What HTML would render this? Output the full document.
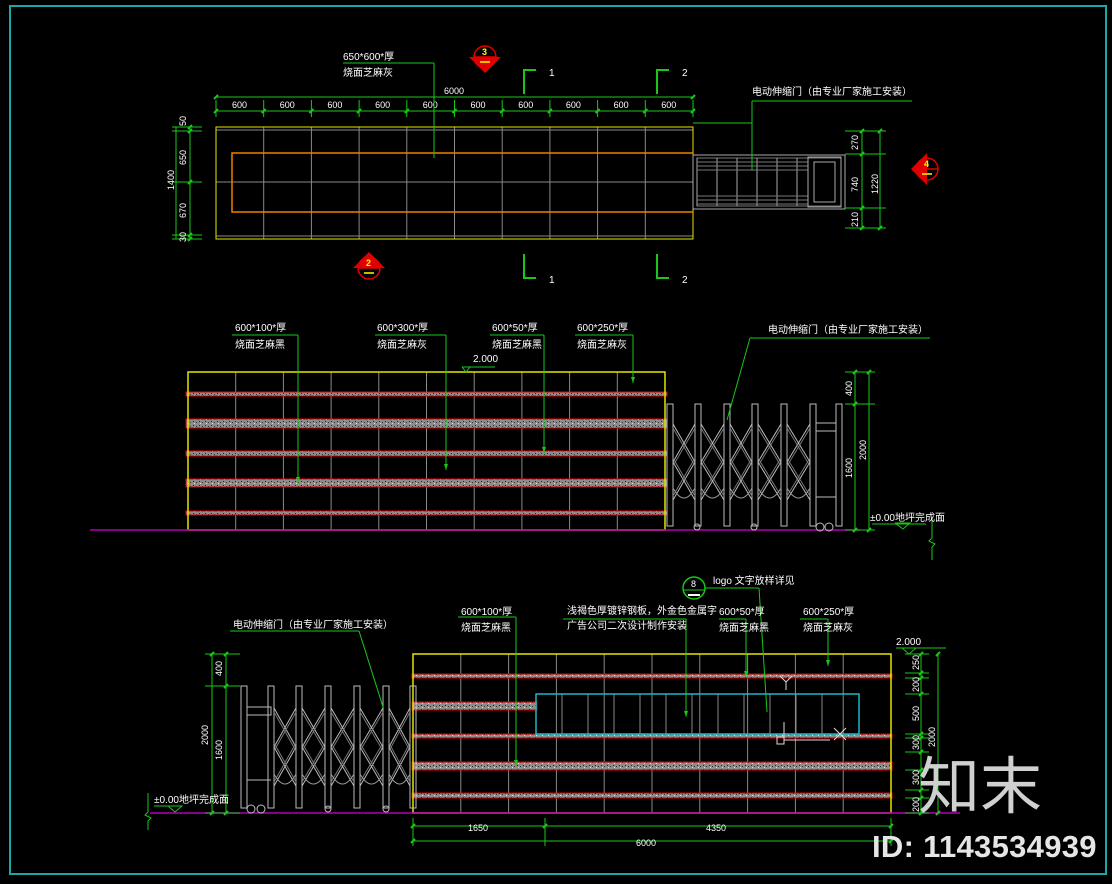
<!DOCTYPE html>
<html><head><meta charset="utf-8"><style>
html,body{margin:0;padding:0;background:#000;}
svg{display:block;}
text{font-family:"Liberation Sans","Noto Sans CJK SC",sans-serif;fill:#fff;}
.s{font-size:10px;}
.d{font-size:9px;}
</style></head><body>
<svg id="c" width="1112" height="884" viewBox="0 0 1112 884" xmlns="http://www.w3.org/2000/svg">
<defs>
<pattern id="st" width="6" height="4" patternUnits="userSpaceOnUse">
<rect width="6" height="4" fill="#8c8c8c"/>
<rect x="1" y="1" width="1" height="1" fill="#222"/><rect x="4" y="2" width="1" height="1" fill="#333"/><rect x="2" y="3" width="1" height="1" fill="#ddd"/>
</pattern>
</defs>
<rect x="10" y="6" width="1096" height="868" fill="none" stroke="#1aa8a8" stroke-width="2"/>
<g id="g"></g>

<text x="918" y="808" style="font-size:62px;fill:#d0d0d0;font-family:'Noto Sans CJK SC',sans-serif">知末</text>
<text x="872" y="857" style="font-size:31px;fill:#e6e6e6;font-weight:bold;letter-spacing:0.3px">ID: 1143534939</text>

<text class="s" x="343" y="60">650*600*厚</text>
<text class="s" x="343" y="76">烧面芝麻灰</text>
<text class="d" x="444" y="94">6000</text>
<text class="s" x="752" y="95">电动伸缩门（由专业厂家施工安装）</text>
<text class="s" x="549" y="76">1</text><text class="s" x="682" y="76">2</text>
<text class="s" x="549" y="283">1</text><text class="s" x="682" y="283">2</text>

<text class="s" x="235" y="331">600*100*厚</text><text class="s" x="235" y="348">烧面芝麻黑</text>
<text class="s" x="377" y="331">600*300*厚</text><text class="s" x="377" y="348">烧面芝麻灰</text>
<text class="s" x="492" y="331">600*50*厚</text><text class="s" x="492" y="348">烧面芝麻黑</text>
<text class="s" x="577" y="331">600*250*厚</text><text class="s" x="577" y="348">烧面芝麻灰</text>
<text class="s" x="473" y="362">2.000</text>
<text class="s" x="768" y="333">电动伸缩门（由专业厂家施工安装）</text>
<text class="s" x="870" y="521">±0.00地坪完成面</text>

<text class="s" x="713" y="584">logo 文字放样详见</text>
<text class="s" x="567" y="614">浅褐色厚镀锌钢板，外金色金属字</text>
<text class="s" x="567" y="629">广告公司二次设计制作安装</text>
<text class="s" x="461" y="615">600*100*厚</text><text class="s" x="461" y="631">烧面芝麻黑</text>
<text class="s" x="719" y="615">600*50*厚</text><text class="s" x="719" y="631">烧面芝麻黑</text>
<text class="s" x="803" y="615">600*250*厚</text><text class="s" x="803" y="631">烧面芝麻灰</text>
<text class="s" x="896" y="645">2.000</text>
<text class="s" x="233" y="628">电动伸缩门（由专业厂家施工安装）</text>
<text class="s" x="154" y="803">±0.00地坪完成面</text>
<text class="d" x="468" y="831">1650</text>
<text class="d" x="706" y="831">4350</text>
<text class="d" x="636" y="846">6000</text>
</svg>
<script>
var G=document.getElementById('g'),NS='http://www.w3.org/2000/svg';
function el(t,a,txt){var e=document.createElementNS(NS,t);for(var k in a)e.setAttribute(k,a[k]);if(txt!=null)e.textContent=txt;G.appendChild(e);return e;}
function L(x1,y1,x2,y2,c,w){el('line',{x1:x1,y1:y1,x2:x2,y2:y2,stroke:c||'#888',"stroke-width":w||1});}
function R(x,y,w,h,c,f,sw){el('rect',{x:x,y:y,width:w,height:h,stroke:c||'none',fill:f||'none',"stroke-width":sw||1});}
function T(x,y,s,cls,rot){var a={x:x,y:y,"class":cls||'d'};if(rot)a.transform='rotate(-90 '+x+' '+y+')';el('text',a,s);}
var GR='#18c818',GY='#8a8a8a',YL='#e6e600',RD='#e00000',MG='#b000b0';
function tick(x,y){L(x-2,y+2,x+2,y-2,GR,2);}
var x0=216,x1=693,cw=(x1-x0)/10;
for(var i=0;i<=10;i++){var x=x0+i*cw;L(x,127,x,239,GY);L(x,100,x,117,GR);tick(x,111);}
L(216,97,693,97,GR);tick(216,97);tick(693,97);L(216,111,693,111,GR);
for(i=0;i<10;i++)T(x0+i*cw+16,108,'600');
L(216,130,693,130,GY);L(216,236,693,236,GY);L(216,182,693,182,GY);
R(216,127,477,112,YL);
el('polyline',{points:'693,153 232,153 232,212 693,212',fill:'none',stroke:'#f08000',"stroke-width":1.5});
L(176,127,176,239,GR);L(190,127,190,239,GR);
[127,131,182,235,239].forEach(function(y){L(172,y,202,y,GR);tick(190,y);});
T(186,126,'50','d',1);T(186,165,'650','d',1);T(186,218,'670','d',1);T(186,242,'30','d',1);T(174,190,'1400','d',1);
L(343,63,434,63,GR);L(434,63,434,158,GR);
el('polyline',{points:'536,70 524,70 524,94',fill:'none',stroke:GR,"stroke-width":2});
el('polyline',{points:'669,70 657,70 657,94',fill:'none',stroke:GR,"stroke-width":2});
el('polyline',{points:'524,254 524,278 536,278',fill:'none',stroke:GR,"stroke-width":2});
el('polyline',{points:'657,254 657,278 669,278',fill:'none',stroke:GR,"stroke-width":2});
function idx(cx,cy,dir,n){el('circle',{cx:cx,cy:cy,r:11,fill:'none',stroke:RD,"stroke-width":1.5});
var p=dir=='d'?(cx-16)+','+cy+' '+(cx+16)+','+cy+' '+cx+','+(cy+16):dir=='u'?(cx-16)+','+cy+' '+(cx+16)+','+cy+' '+cx+','+(cy-16):cx+','+(cy-16)+' '+cx+','+(cy+16)+' '+(cx-16)+','+cy;
el('polygon',{points:p,fill:RD});L(cx-11,cy,cx+11,cy,RD,1.5);
el('text',{x:cx-3,y:cy-2,style:'font-size:9px;fill:#ff0;font-weight:bold'},n);L(cx-5,cy+5,cx+5,cy+5,'#ff0',1.5);}
idx(485,57,'d','3');idx(369,268,'u','2');idx(927,169,'l','4');
R(693,155,152,54,'#aaa');R(697,158,144,48,'#777');
[697,717,737,757,777,797].forEach(function(x){L(x,158,x,206,'#aaa');});
[162,166,170,196,200,204].forEach(function(y){L(697,y,808,y,'#777');});
R(808,157,33,50,'#aaa');R(814,162,21,40,'#aaa');
L(693,123,752,123,GR);L(752,101,752,170,GR);L(752,101,912,101,GR);
L(862,131,862,228,GR);L(880,131,880,228,GR);
[131,154,208,228].forEach(function(y){L(845,y,886,y,GR);tick(862,y);});tick(880,131);tick(880,228);
T(858,150,'270','d',1);T(858,192,'740','d',1);T(858,227,'210','d',1);T(878,194,'1220','d',1);
var mx0=188,mx1=665,mw=(mx1-mx0)/10;
for(i=0;i<=10;i++){L(mx0+i*mw,372,mx0+i*mw,530,GY);}
[[392,4],[419,9],[451,5],[479,8],[511,4]].forEach(function(b){R(186,b[0],481,b[1],RD,'url(#st)');});
R(188,372,477,158,YL,'none',1.5);
L(90,530,860,530,MG,1.5);
el('polyline',{points:'462,367 470,367 466,372 462,367',fill:'none',stroke:GR});L(462,367,495,367,GR);
function ldr(xs,y,xv,ye){L(xs,y,xv,y,GR);L(xv,y,xv,ye,GR);el('polygon',{points:(xv-2)+','+(ye-6)+' '+(xv+2)+','+(ye-6)+' '+xv+','+ye,fill:GR});}
ldr(232,335,298,483);ldr(375,335,446,470);ldr(490,335,544,453);ldr(575,335,633,383);
function gate(posts,top,bot,latTop,latBot,hp){
 posts.forEach(function(x){R(x-3,top,6,bot-top,'#bbb');});
 for(var i=0;i<posts.length-1;i++){var a=posts[i]+3,b=posts[i+1]-3;if(hp!==null&&i===hp)continue;
  var m=(latTop+latBot)/2;
  L(a,latTop,b,m,'#bbb');L(a,m,b,latTop,'#bbb');L(a,m,b,latBot,'#bbb');L(a,latBot,b,m,'#bbb');
  L(a,latTop+4,b,m+4,'#777');L(a,m+4,b,latTop+4,'#777');L(a,m-4,b,latBot-4,'#777');L(a,latBot-4,b,m-4,'#777');
  el('path',{d:'M'+a+','+(latBot-12)+' Q'+((a+b)/2)+','+(latBot+8)+' '+b+','+(latBot-12),fill:'none',stroke:'#999'});
 }}
gate([670,698,727,755,784,813,839],404,526,424,500,5);
R(816,423,20,8,'#bbb');L(816,497,836,497,'#bbb');
[820,829].forEach(function(x){el('circle',{cx:x,cy:527,r:4,fill:'none',stroke:'#bbb'});});
[697,754].forEach(function(x){el('circle',{cx:x,cy:527,r:3,fill:'none',stroke:'#bbb'});});
L(727,420,750,338,GR);L(750,338,930,338,GR);
L(855,372,855,530,GR);L(869,372,869,530,GR);
[372,404,530].forEach(function(y){L(845,y,875,y,GR);tick(855,y);});tick(869,372);tick(869,530);
T(852,396,'400','d',1);T(852,478,'1600','d',1);T(866,460,'2000','d',1);
el('polyline',{points:'895,523 910,523 903,529 895,523',fill:'none',stroke:GR});L(872,524,926,524,GR);
el('polyline',{points:'932,520 932,538 929,541 935,544 932,547 932,560',fill:'none',stroke:GR});
var bx0=413,bx1=891,bw=(bx1-bx0)/10;
for(i=0;i<=10;i++){L(bx0+i*bw,654,bx0+i*bw,813,GY);}
[[674,4,413,478],[702,8,413,123],[734,4,413,478],[762,8,413,478],[793,5,413,478]].forEach(function(b){R(b[2]-1,b[0],b[3]+2,b[1],RD,'url(#st)');});
R(536,694,323,40,'#1ab8c8','none',1.5);
[562,588,614,640,666,692,718,744,770,796,822].forEach(function(x){L(x,694,x,734,GY);});
R(413,654,478,159,YL,'none',1.5);
L(150,813,960,813,MG,1.5);
L(784,722,784,740,'#ddd');L(784,740,830,740,'#ddd');R(777,737,7,7,'#ddd');
L(834,728,846,740,'#ddd');L(846,728,834,740,'#ddd');
L(780,676,786,682,'#ddd');L(792,676,786,682,'#ddd');L(786,682,786,690,'#ddd');
el('circle',{cx:694,cy:588,r:11,fill:'none',stroke:GR,"stroke-width":1.5});L(683,590,705,590,GR);
el('text',{x:691,y:587,style:'font-size:9px;fill:#fff'},'8');L(688,595,700,595,'#fff',2);
L(705,588,759,588,GR);L(759,588,767,712,GR);
ldr(458,617,516,766);ldr(563,619,686,717);ldr(719,619,746,677);ldr(800,619,828,666);
L(413,826,545,826,GR);L(545,826,891,826,GR);L(413,841,891,841,GR);
[413,545,891].forEach(function(x){L(x,818,x,846,GR);tick(x,826);});tick(413,841);tick(891,841);
L(921,654,921,813,GR);L(938,654,938,813,GR);
[654,673,678,694,734,738,752,770,790,798,813].forEach(function(y){L(905,y,929,y,GR);tick(921,y);});tick(938,654);tick(938,813);
el('polyline',{points:'902,648 916,648 909,654 902,648',fill:'none',stroke:GR});L(896,648,946,648,GR);
T(919,670,'250','d',1);T(919,692,'200','d',1);T(919,721,'500','d',1);T(919,750,'300','d',1);T(919,785,'300','d',1);T(919,812,'200','d',1);T(935,747,'2000','d',1);
gate([244,271,299,328,357,386,413],686,808,708,786,0);
R(247,707,24,8,'#bbb');L(247,780,271,780,'#bbb');
[251,261].forEach(function(x){el('circle',{cx:x,cy:809,r:4,fill:'none',stroke:'#bbb'});});
[328,386].forEach(function(x){el('circle',{cx:x,cy:809,r:3,fill:'none',stroke:'#bbb'});});
L(230,631,359,631,GR);L(359,631,383,707,GR);
L(212,654,212,813,GR);L(226,654,226,813,GR);
[654,686,813].forEach(function(y){L(205,y,240,y,GR);tick(226,y);});tick(212,654);tick(212,813);
T(222,676,'400','d',1);T(222,760,'1600','d',1);T(208,745,'2000','d',1);
el('polyline',{points:'168,806 182,806 175,812 168,806',fill:'none',stroke:GR});L(154,806,182,806,GR);
el('polyline',{points:'148,793 148,812 145,815 151,818 148,821 148,830',fill:'none',stroke:GR});
</script>
</body></html>
